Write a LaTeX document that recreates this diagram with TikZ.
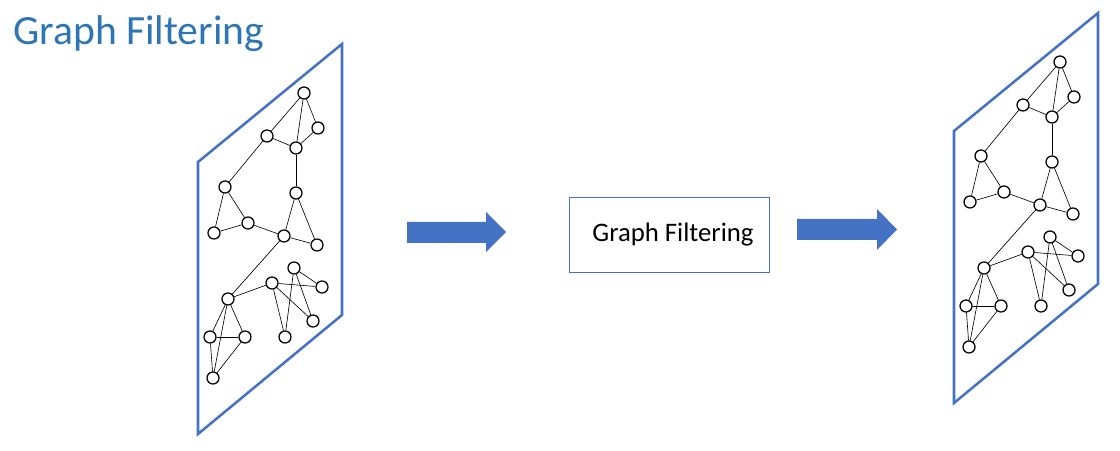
\documentclass[tikz,border=0pt]{standalone}
\usepackage{fontspec}
\setmainfont{Carlito}
\definecolor{panelblue}{HTML}{4472C4}
\definecolor{titleblue}{HTML}{2E75B6}
\tikzset{
  gnode/.style={circle, draw, fill=white, line width=0.9pt, minimum size=0.3cm, inner sep=0pt},
  gedge/.style={line width=0.45pt},
  panel/.style={draw=panelblue, line width=1.8pt},
  filterbox/.style={draw=panelblue, line width=0.6pt, minimum width=5cm, minimum height=1.875cm}
}
\begin{document}
\begin{tikzpicture}[x=0.025cm, y=-0.025cm]
  \useasboundingbox (0,0) rectangle (1120,451);

  \node[anchor=base west, text=titleblue, font=\fontsize{29.6}{34}\selectfont, inner sep=0pt] (title) at (13,45) {Graph Filtering};

  % the two graph panels, same graph on both
  \foreach \s/\dx/\dy in {L/0/0, R/756/-31}{
    \begin{scope}[shift={(\dx,\dy)}]
      \draw[panel] (198,162) -- (342,44) -- (342,315) -- (198,434) -- cycle;
      \foreach \n/\x/\y in {a/304/93, b/318/128, c/267/136, d/296/148, e/225/187,
                            f/296/193, g/248/223, h/214/233, i/284/236, j/317/245,
                            k/228/299, l/272/283, m/294/268, n/322/287, o/313/321,
                            p/285/337, q/210/337, r/245/337, s/213/378}{
        \node[gnode] (\s\n) at (\x,\y) {};
      }
      \foreach \u/\v in {a/b, a/c, a/d, b/d, c/d, d/f, c/e, e/h, e/g, g/h, g/i,
                         f/i, f/j, i/j, i/k, k/l, l/n, l/o, l/p, m/p, m/n, m/o,
                         k/q, k/r, k/s, q/r, q/s, r/s}{
        \draw[gedge] (\s\u) -- (\s\v);
      }
    \end{scope}
  }

  \node[filterbox] (filter) at (669,234.5) {};
  \node[font=\fontsize{19}{22}\selectfont] (filtertext) at ([xshift=0.1cm]filter.center) {Graph Filtering};

  % block arrows
  \fill[panelblue] (407,222) -- (486,222) -- (486,212) -- (506,232) -- (486,252) -- (486,243) -- (407,243) -- cycle;
  \fill[panelblue] (797,219) -- (877,219) -- (877,209) -- (897,229.5) -- (877,250) -- (877,240) -- (797,240) -- cycle;
\end{tikzpicture}
\end{document}
